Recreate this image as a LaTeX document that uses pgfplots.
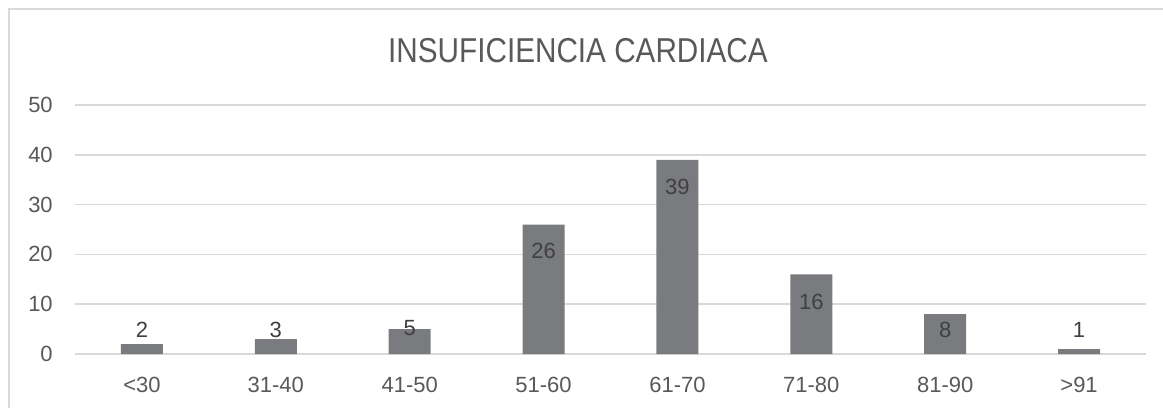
\documentclass[border=0pt]{standalone}
\usepackage{pgfplots}
\pgfplotsset{compat=1.18}
\usepackage{fontspec}
\setmainfont{Liberation Sans}
\newfontfamily\titlefont[FakeStretch=0.86]{Liberation Sans}
\definecolor{barc}{HTML}{7A7B7F}
\definecolor{txt}{HTML}{595959}
\definecolor{lbl}{HTML}{404040}
\definecolor{grd}{HTML}{D9D9D9}
\begin{document}
\begin{tikzpicture}
\useasboundingbox (0,0) rectangle (872.25pt,306pt);
\fill[white] (0,0) rectangle (872.25pt,306pt);
\draw[grd, line width=1.1pt] (6.75pt,0) -- (6.75pt,299.25pt) -- (872.25pt,299.25pt);
\node[anchor=center, text=txt, font=\titlefont\fontsize{25.9}{30}\selectfont, inner sep=0pt] at (433.5pt,267.75pt) {INSUFICIENCIA CARDIACA};
\begin{axis}[
  at={(56.25pt,40.5pt)}, anchor=south west,
  scale only axis, width=803.25pt, height=186.75pt,
  xmin=-0.5, xmax=7.5, ymin=0, ymax=50,
  ytick={0,10,20,30,40,50},
  xtick={0,...,7},
  xticklabels={<30,31-40,41-50,51-60,61-70,71-80,81-90,>91},
  axis line style={draw=none},
  major tick length=0pt,
  ymajorgrids, grid style={grd, line width=1.1pt},
  /pgf/number format/assume math mode=true,
  tick label style={text=txt, font=\fontsize{16.5}{19}\selectfont},
  yticklabel style={anchor=east, inner sep=0pt, xshift=-16.5pt},
  xticklabel style={anchor=north, inner sep=0pt, yshift=-17pt},
  clip=false,
]
\addplot[ybar, bar width=31.5pt, fill=barc, draw=none,
  nodes near coords,
  visualization depends on={\thisrow{off}\as\lblshift},
  every node near coord/.style={anchor=center, inner sep=0pt, yshift=\lblshift pt, text=lbl, font=\fontsize{16.5}{19}\selectfont}]
  table[x=x, y=y] {
x y off
0 2 10.5
1 3 6.75
2 5 0.75
3 26 -19.5
4 39 -20.25
5 16 -21
6 8 -12
7 1 14.25
};
\end{axis}
\end{tikzpicture}
\end{document}
